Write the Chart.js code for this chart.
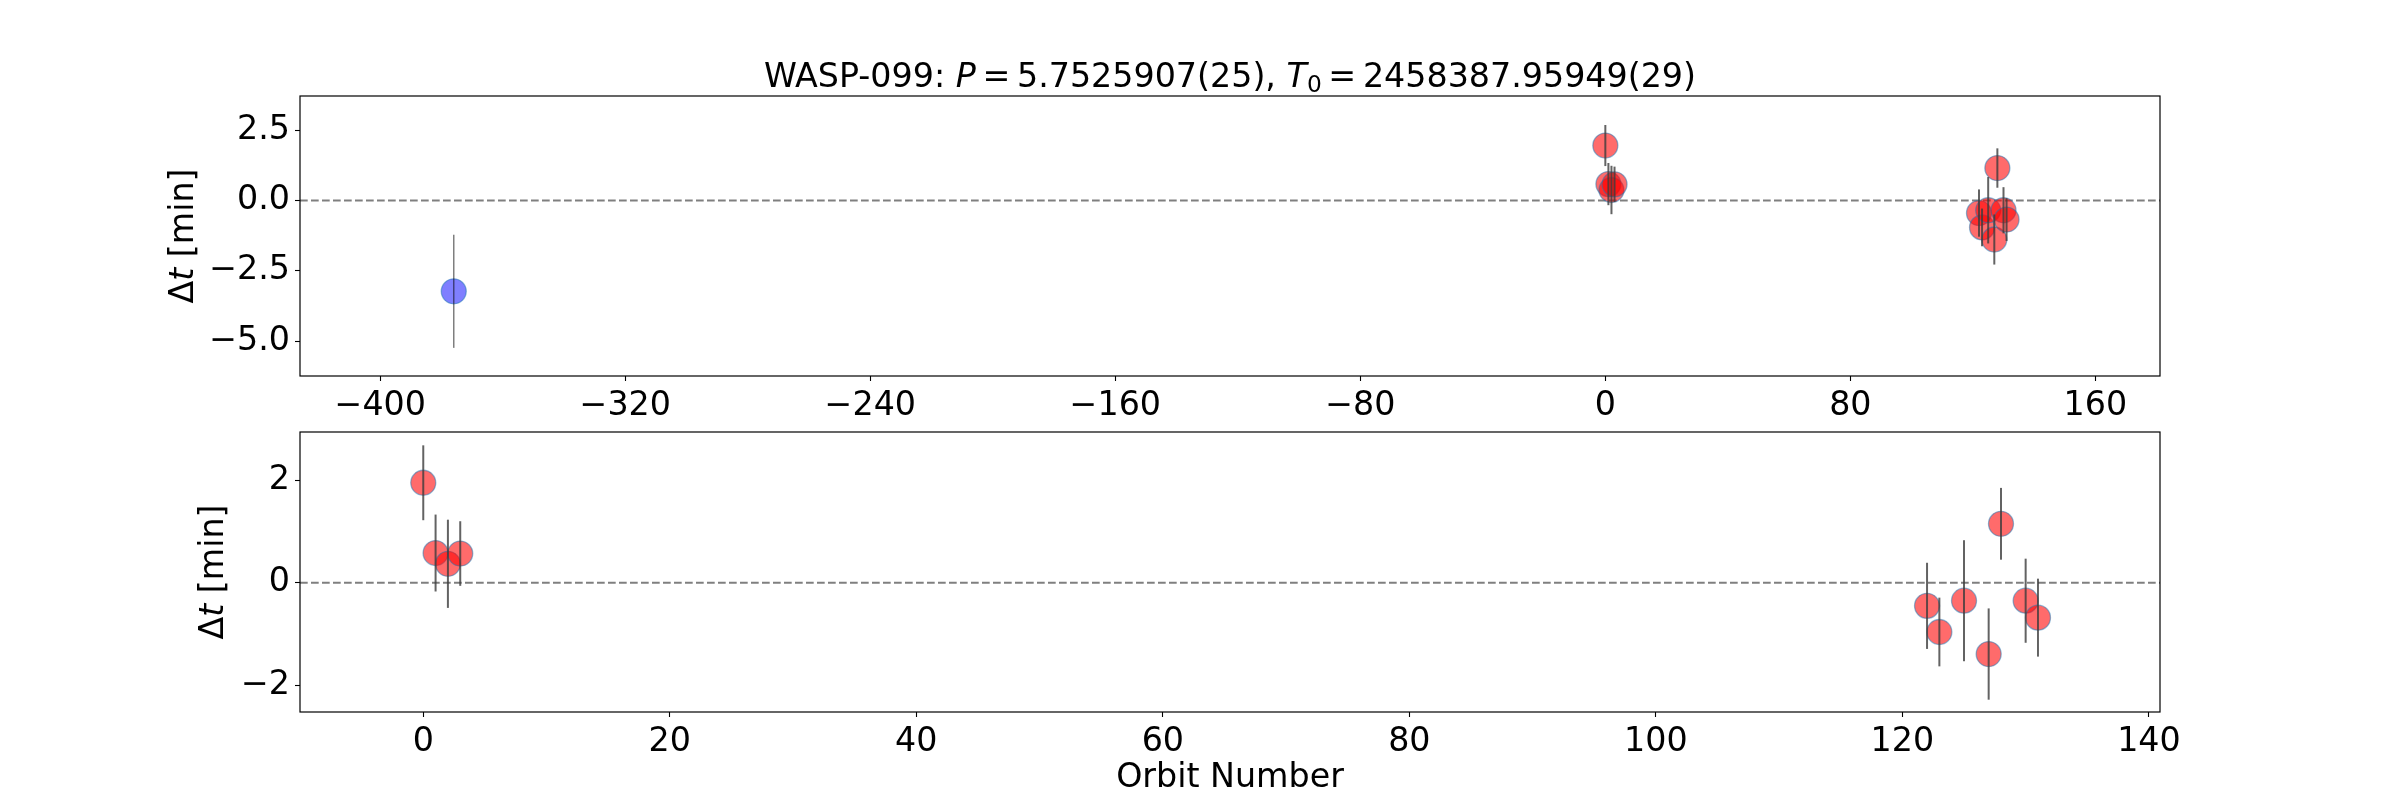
<!DOCTYPE html>
<html>
<head>
<meta charset="utf-8">
<script src="https://cdn.jsdelivr.net/npm/chart.js@4.4.1/dist/chart.umd.min.js"></script>
<style>
    html, body { margin: 0; padding: 0; background: #fff; }
    #wrap { position: relative; width: 2400px; height: 800px; }
    .panel { position: absolute; left: 0; width: 2400px; }
    #top { top: 0; height: 420px; }
    #bottom { top: 400px; height: 400px; }
</style>
</head>
<body>
<div id="wrap">
    <div class="panel" id="top"><canvas id="chartTop"></canvas></div>
    <div class="panel" id="bottom"><canvas id="chartBottom"></canvas></div>
</div>
<script>
// transit timings (minutes) against orbit number
const orbitNumbers = [0, 1, 2, 3, 122, 123, 125, 127, 128, 130, 131];
const timingOffsets = [1.95, 0.58, 0.37, 0.57, -0.45, -0.96, -0.35, -1.39, 1.15, -0.35, -0.68];
const timingErrors = [0.73, 0.75, 0.86, 0.63, 0.84, 0.67, 1.18, 0.89, 0.70, 0.82, 0.76];

// older literature epoch (blue)
const oldOrbitNumbers = [-376];
const oldTimingOffsets = [-3.23];
const oldTimingErrors = [2.01];

const topXTicks = [-400, -320, -240, -160, -80, 0, 80, 160];
const topYTicks = [2.5, 0.0, -2.5, -5.0];
const bottomXTicks = [0, 20, 40, 60, 80, 100, 120, 140];
const bottomYTicks = [2, 0, -2];

const FONT = '"DejaVu Sans"';
const FONT_SIZE = 33.3;

function fmtTick(digits) {
    return function (v) {
        const s = Math.abs(v).toFixed(digits);
        return v < 0 ? '\u2212' + s : s;
    };
}

function points(xs, ys) {
    return xs.map((x, i) => ({ x: x, y: ys[i] }));
}

const zeroLinePlugin = {
    id: 'zeroLine',
    beforeDatasetsDraw(chart) {
        const ctx = chart.ctx;
        const area = chart.chartArea;
        const y = chart.scales.y.getPixelForValue(0);
        ctx.save();
        ctx.strokeStyle = 'rgba(0,0,0,0.5)';
        ctx.lineWidth = 2;
        ctx.setLineDash([7.7, 3.3]);
        ctx.beginPath();
        ctx.moveTo(area.left, y);
        ctx.lineTo(area.right, y);
        ctx.stroke();
        ctx.restore();
    }
};

const errorBarPlugin = {
    id: 'errorBars',
    afterDatasetsDraw(chart) {
        const ctx = chart.ctx;
        const xs = chart.scales.x;
        const ys = chart.scales.y;
        ctx.save();
        chart.data.datasets.forEach(ds => {
            ctx.strokeStyle = ds.errorColor;
            ctx.lineWidth = ds.errorWidth;
            ds.data.forEach((p, i) => {
                const e = ds.errors[i];
                const px = xs.getPixelForValue(p.x);
                ctx.beginPath();
                ctx.moveTo(px, ys.getPixelForValue(p.y + e));
                ctx.lineTo(px, ys.getPixelForValue(p.y - e));
                ctx.stroke();
            });
        });
        ctx.restore();
    }
};

const framePlugin = {
    id: 'frame',
    afterDraw(chart) {
        const a = chart.chartArea;
        const ctx = chart.ctx;
        ctx.save();
        ctx.strokeStyle = '#000';
        ctx.lineWidth = 1.2;
        ctx.strokeRect(a.left, a.top, a.right - a.left, a.bottom - a.top);
        ctx.restore();
    }
};

// draws mixed upright / italic / subscript text pieces, centred on x
function drawParts(ctx, parts, x, y, size) {
    const fontFor = p => (p.italic ? 'italic ' : '') + (p.sub ? size * 0.7 : size) + 'px ' + FONT;
    let total = 0;
    parts.forEach(p => { ctx.font = fontFor(p); total += ctx.measureText(p.text).width; });
    let cx = x - total / 2;
    parts.forEach(p => {
        ctx.font = fontFor(p);
        ctx.fillText(p.text, cx, y + (p.sub ? size * 0.15 : 0));
        cx += ctx.measureText(p.text).width;
    });
}

const mathTextPlugin = {
    id: 'mathText',
    afterDraw(chart, args, opts) {
        const ctx = chart.ctx;
        const a = chart.chartArea;
        ctx.save();
        ctx.fillStyle = '#000';
        if (opts.title) {
            ctx.textBaseline = 'alphabetic';
            drawParts(ctx, opts.title, (a.left + a.right) / 2, a.top - 9, FONT_SIZE);
        }
        if (opts.ylabel) {
            ctx.translate(a.left - opts.ylabelOffset, (a.top + a.bottom) / 2);
            ctx.rotate(-Math.PI / 2);
            ctx.textBaseline = 'middle';
            drawParts(ctx, opts.ylabel, 0, 0, FONT_SIZE);
        }
        ctx.restore();
    }
};

const yLabelParts = [
    { text: '\u0394' },
    { text: 't', italic: true },
    { text: ' [min]' }
];

const titleParts = [
    { text: 'WASP-099: ' },
    { text: 'P', italic: true },
    { text: '\u2009=\u20095.7525907(25), ' },
    { text: 'T', italic: true },
    { text: '0', sub: true },
    { text: '\u2009=\u20092458387.95949(29)' }
];

function axisOptions(ticks, min, max, digits, fit) {
    return {
        type: 'linear',
        min: min,
        max: max,
        afterBuildTicks: scale => { scale.ticks = ticks.map(v => ({ value: v })); },
        afterFit: fit,
        border: { display: false },
        grid: {
            display: true,
            drawOnChartArea: false,
            drawTicks: true,
            tickLength: 5,
            tickWidth: 1.1,
            tickColor: '#000'
        },
        ticks: {
            autoSkip: false,
            maxRotation: 0,
            padding: 5,
            color: '#000',
            font: { family: FONT, size: FONT_SIZE },
            callback: fmtTick(digits)
        }
    };
}

function redDataset() {
    return {
        data: points(orbitNumbers, timingOffsets),
        errors: timingErrors,
        errorColor: 'rgba(60,60,60,0.8)',
        errorWidth: 2,
        backgroundColor: 'rgba(255,0,0,0.58)',
        borderColor: 'rgba(31,119,180,0.5)',
        borderWidth: 1.3,
        pointRadius: 12.5,
        pointHoverRadius: 12.5
    };
}

const topChart = new Chart(document.getElementById('chartTop'), {
    type: 'scatter',
    data: {
        datasets: [
            {
                data: points(oldOrbitNumbers, oldTimingOffsets),
                errors: oldTimingErrors,
                errorColor: 'rgba(0,0,0,0.5)',
                errorWidth: 1.5,
                backgroundColor: 'rgba(0,0,255,0.5)',
                borderColor: 'rgba(31,119,180,0.5)',
                borderWidth: 1.3,
                pointRadius: 12.5,
                pointHoverRadius: 12.5
            },
            redDataset()
        ]
    },
    options: {
        responsive: true,
        maintainAspectRatio: false,
        animation: false,
        events: [],
        layout: { padding: { top: 96, right: 240, left: 0, bottom: 0 } },
        scales: {
            x: axisOptions(topXTicks, -426.2, 181.1, 0, s => { s.height = 44; }),
            y: axisOptions(topYTicks, -6.24, 3.71, 1, s => { s.width = 300; })
        },
        plugins: {
            legend: { display: false },
            tooltip: { enabled: false },
            mathText: { title: titleParts, ylabel: yLabelParts, ylabelOffset: 116 }
        }
    },
    plugins: [zeroLinePlugin, errorBarPlugin, framePlugin, mathTextPlugin]
});

const bottomX = axisOptions(bottomXTicks, -10.0, 140.9, 0, s => { s.height = 88; });
bottomX.title = {
    display: true,
    text: 'Orbit Number',
    color: '#000',
    font: { family: FONT, size: FONT_SIZE },
    padding: { top: 0, bottom: 2 }
};

const bottomChart = new Chart(document.getElementById('chartBottom'), {
    type: 'scatter',
    data: { datasets: [redDataset()] },
    options: {
        responsive: true,
        maintainAspectRatio: false,
        animation: false,
        events: [],
        layout: { padding: { top: 32, right: 240, left: 0, bottom: 0 } },
        scales: {
            x: bottomX,
            y: axisOptions(bottomYTicks, -2.52, 2.94, 0, s => { s.width = 300; })
        },
        plugins: {
            legend: { display: false },
            tooltip: { enabled: false },
            mathText: { ylabel: yLabelParts, ylabelOffset: 86 }
        }
    },
    plugins: [zeroLinePlugin, errorBarPlugin, framePlugin, mathTextPlugin]
});
</script>
</body>
</html>
